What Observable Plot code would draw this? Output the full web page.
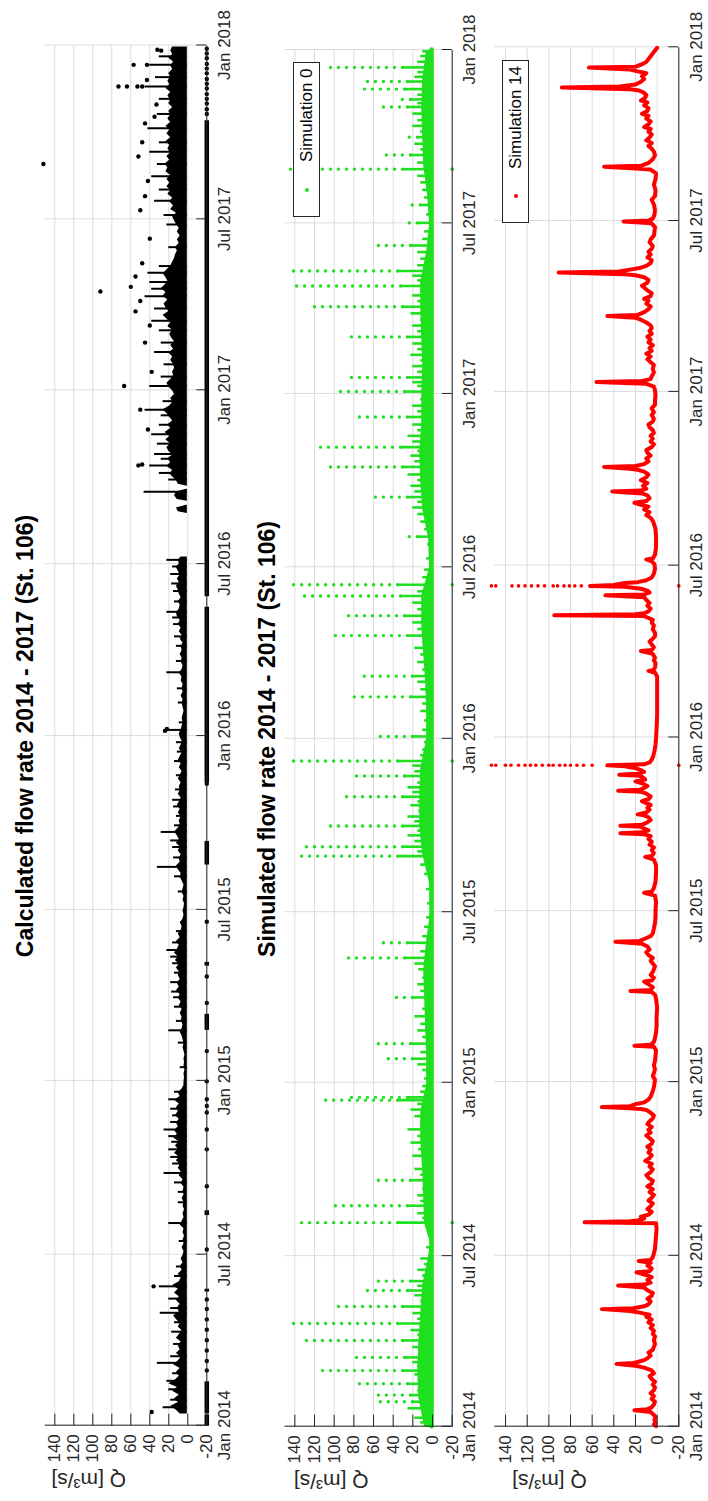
<!DOCTYPE html>
<html><head><meta charset="utf-8">
<script src="https://cdn.jsdelivr.net/npm/d3@7"></script>
<script src="https://cdn.jsdelivr.net/npm/@observablehq/plot@0.6"></script>
<style>
html,body{margin:0;padding:0;width:708px;height:1501px;overflow:hidden;background:#fff}
#fig{position:absolute;left:0;top:0;width:1501px;height:708px;transform-origin:0 0;transform:translate(0,1501px) rotate(-90deg);font-family:"Liberation Sans",Arial,sans-serif;color:#000}
#fig svg{position:absolute;left:0;top:0;background:transparent;overflow:visible}
.title{position:absolute;font-weight:bold;font-size:23px;line-height:23px;white-space:nowrap;transform:translateX(-50%);color:#000}
.legend{position:absolute;border:1px solid #262626;background:#fff;font-size:17px;box-sizing:border-box}
.legend .dot{position:absolute;width:4px;height:4px;border-radius:50%;top:50%;margin-top:-2px}
.legend .lab{position:absolute;top:50%;transform:translateY(-50%);white-space:nowrap;color:#000}
</style></head><body>
<div id="fig"></div>
<script>
// ---------- axes / text ----------
const dateTickLabels = ["2014-01-01","2014-07-01","2015-01-01","2015-07-01","2016-01-01","2016-07-01","2017-01-01","2017-07-01","2018-01-01"];
const qTicks = [-20,0,20,40,60,80,100,120,140];
const titles = ["Calculated flow rate 2014 - 2017 (St. 106)", "Simulated flow rate 2014 - 2017 (St. 106)"];
const yLabel = "Q [m³/s]";
const legendLabels = ["Simulation 0", "Simulation 14"];

// ---------- panel 1: calculated flow (black points) ----------
// dense body of points: [date, upper edge]  (lower edge ~0.5)
const calcBand = [
["2014-01-14",8],["2014-01-18",12],["2014-01-22",18],["2014-01-26",10],["2014-01-30",14],["2014-02-03",9],["2014-02-07",16],["2014-02-11",11],["2014-02-15",20],["2014-02-19",13],["2014-02-23",9],["2014-02-27",12],["2014-03-03",8],["2014-03-07",15],["2014-03-11",10],["2014-03-15",7],["2014-03-19",12],["2014-03-23",8],["2014-03-27",10],["2014-03-31",7],["2014-04-04",12],["2014-04-08",9],["2014-04-12",6],["2014-04-16",10],["2014-04-20",8],["2014-04-24",12],["2014-04-28",15],["2014-05-02",9],["2014-05-06",11],["2014-05-10",8],["2014-05-14",12],["2014-05-18",9],["2014-05-22",14],["2014-05-26",10],["2014-05-30",16],["2014-06-03",9],["2014-06-07",7],["2014-06-11",10],["2014-06-15",6],["2014-06-19",8],["2014-06-23",5],["2014-06-27",7],["2014-07-01",5],["2014-07-05",4],["2014-07-09",6],["2014-07-13",4],["2014-07-17",5],["2014-07-21",3.5],["2014-07-25",5],["2014-07-29",4],["2014-08-02",8],["2014-08-06",6],["2014-08-10",4],["2014-08-14",5],["2014-08-18",3.5],["2014-08-22",5],["2014-08-26",4],["2014-08-30",6],["2014-09-03",4],["2014-09-07",5],["2014-09-11",4],["2014-09-15",7],["2014-09-19",5],["2014-09-23",9],["2014-09-27",7],["2014-10-01",10],["2014-10-05",8],["2014-10-09",12],["2014-10-13",9],["2014-10-17",14],["2014-10-21",10],["2014-10-25",13],["2014-10-29",9],["2014-11-02",15],["2014-11-06",11],["2014-11-10",14],["2014-11-14",10],["2014-11-18",12],["2014-11-22",9],["2014-11-26",13],["2014-11-30",10],["2014-12-04",12],["2014-12-08",9],["2014-12-12",14],["2014-12-16",8],["2014-12-20",10],["2014-12-24",6],["2014-12-28",4],
["2015-01-01",4],["2015-01-05",3.5],["2015-01-09",4],["2015-01-13",3],["2015-01-17",4],["2015-01-21",3.5],["2015-01-25",4],["2015-01-29",3],["2015-02-02",4],["2015-02-06",5],["2015-02-10",4],["2015-02-14",5],["2015-02-18",6],["2015-02-22",8],["2015-02-26",6],["2015-03-02",5],["2015-03-06",7],["2015-03-10",6],["2015-03-14",8],["2015-03-18",6],["2015-03-22",9],["2015-03-26",7],["2015-03-30",10],["2015-04-03",8],["2015-04-07",12],["2015-04-11",9],["2015-04-15",11],["2015-04-19",8],["2015-04-23",10],["2015-04-27",9],["2015-05-01",12],["2015-05-05",9],["2015-05-09",13],["2015-05-13",10],["2015-05-17",14],["2015-05-21",11],["2015-05-25",9],["2015-05-29",12],["2015-06-02",8],["2015-06-06",10],["2015-06-10",7],["2015-06-14",6],["2015-06-18",8],["2015-06-22",5],["2015-06-26",4],["2015-06-30",5],["2015-07-04",4],["2015-07-08",3.5],["2015-07-12",5],["2015-07-16",4],["2015-07-20",6],["2015-07-24",5],["2015-07-28",4],["2015-08-01",6],["2015-08-05",8],["2015-08-09",7],["2015-08-13",10],["2015-08-17",12],["2015-08-21",8],["2015-08-25",9],["2015-08-29",7],["2015-09-02",10],["2015-09-06",8],["2015-09-10",12],["2015-09-14",9],["2015-09-18",11],["2015-09-22",14],["2015-09-26",10],["2015-09-30",8],["2015-10-04",9],["2015-10-08",7],["2015-10-12",10],["2015-10-16",8],["2015-10-20",11],["2015-10-24",9],["2015-10-28",7],["2015-11-01",10],["2015-11-05",8],["2015-11-09",9],["2015-11-13",7],["2015-11-17",10],["2015-11-21",8],["2015-11-25",6],["2015-11-29",9],["2015-12-03",7],["2015-12-07",10],["2015-12-11",8],["2015-12-15",6],["2015-12-19",9],["2015-12-23",7],["2015-12-27",6],["2015-12-31",8],
["2016-01-04",9],["2016-01-08",7],["2016-01-12",6],["2016-01-16",5],["2016-01-20",6],["2016-01-24",5],["2016-01-28",4],["2016-02-01",5],["2016-02-05",6],["2016-02-09",5],["2016-02-13",7],["2016-02-17",5],["2016-02-21",6],["2016-02-25",5],["2016-02-29",7],["2016-03-04",6],["2016-03-08",9],["2016-03-12",6],["2016-03-16",5],["2016-03-20",7],["2016-03-24",6],["2016-03-28",8],["2016-04-01",6],["2016-04-05",7],["2016-04-09",5],["2016-04-13",8],["2016-04-17",6],["2016-04-21",9],["2016-04-25",7],["2016-04-29",10],["2016-05-03",8],["2016-05-07",11],["2016-05-11",12],["2016-05-15",9],["2016-05-19",8],["2016-05-23",10],["2016-05-27",7],["2016-05-31",9],["2016-06-04",10],["2016-06-08",12],["2016-06-12",9],["2016-06-16",11],["2016-06-20",8],["2016-06-24",10],["2016-06-28",12],["2016-07-02",9],["2016-07-06",10],["2016-07-09",7]];
const calcBand2 = [
["2016-08-24",0.5],["2016-08-26",10],["2016-08-30",12],["2016-09-02",0.5],["2016-09-06",0.5],["2016-09-08",11],["2016-09-12",14],["2016-09-16",12],["2016-09-19",0.5],["2016-09-22",0.5],["2016-09-24",10],["2016-09-28",12],["2016-10-01",15],["2016-10-05",19],["2016-10-09",16],["2016-10-13",22],["2016-10-17",18],["2016-10-21",21],["2016-10-25",16],["2016-10-29",20],["2016-11-02",22],["2016-11-06",18],["2016-11-10",23],["2016-11-14",19],["2016-11-18",24],["2016-11-22",18],["2016-11-26",21],["2016-11-30",16],["2016-12-04",19],["2016-12-08",22],["2016-12-12",26],["2016-12-16",19],["2016-12-20",16],["2016-12-24",18],["2016-12-28",14],
["2017-01-01",16],["2017-01-05",20],["2017-01-09",22],["2017-01-13",18],["2017-01-17",15],["2017-01-21",16],["2017-01-25",14],["2017-01-29",15],["2017-02-02",18],["2017-02-06",16],["2017-02-10",20],["2017-02-14",15],["2017-02-18",18],["2017-02-22",14],["2017-02-26",17],["2017-03-02",19],["2017-03-06",16],["2017-03-10",21],["2017-03-14",18],["2017-03-18",22],["2017-03-22",26],["2017-03-26",20],["2017-03-30",23],["2017-04-03",25],["2017-04-07",21],["2017-04-11",26],["2017-04-15",23],["2017-04-19",28],["2017-04-23",24],["2017-04-27",21],["2017-05-01",23],["2017-05-05",26],["2017-05-09",22],["2017-05-13",18],["2017-05-17",16],["2017-05-21",14],["2017-05-25",13],["2017-05-29",11],["2017-06-02",13],["2017-06-06",9],["2017-06-10",11],["2017-06-14",8],["2017-06-18",11],["2017-06-22",9],["2017-06-26",12],["2017-06-30",14],["2017-07-04",16],["2017-07-08",12],["2017-07-12",18],["2017-07-16",15],["2017-07-20",19],["2017-07-24",16],["2017-07-28",21],["2017-08-01",18],["2017-08-05",22],["2017-08-09",19],["2017-08-13",22],["2017-08-17",18],["2017-08-21",23],["2017-08-25",21],["2017-08-29",24],["2017-09-02",19],["2017-09-06",22],["2017-09-10",18],["2017-09-14",21],["2017-09-18",19],["2017-09-22",23],["2017-09-26",18],["2017-09-30",22],["2017-10-04",19],["2017-10-08",23],["2017-10-12",18],["2017-10-16",21],["2017-10-20",18],["2017-10-24",20],["2017-10-28",16],["2017-11-01",20],["2017-11-05",18],["2017-11-09",21],["2017-11-13",18],["2017-11-17",23],["2017-11-21",19],["2017-11-25",21],["2017-11-29",18],["2017-12-03",20],["2017-12-07",16],["2017-12-11",18],["2017-12-15",15],["2017-12-19",20],["2017-12-23",16],["2017-12-27",18],["2017-12-31",16]];
// short bursts of points above the dense body: [date, top]
const calcHairs = [["2014-01-20",26],["2014-01-28",18],["2014-02-08",20],["2014-02-17",22],["2014-02-25",16],["2014-03-08",32],["2014-03-15",18],["2014-03-28",15],["2014-04-10",17],["2014-04-20",14],["2014-04-30",29],["2014-05-05",18],["2014-05-15",20],["2014-05-28",30],["2014-06-08",14],["2014-06-18",12],["2014-07-15",9],["2014-08-03",20],["2014-08-25",10],["2014-09-05",10],["2014-09-15",14],["2014-09-25",25],["2014-10-05",16],["2014-10-12",18],["2014-10-20",20],["2014-10-28",17],["2014-11-03",20],["2014-11-10",25],["2014-11-18",18],["2014-11-25",16],["2014-12-02",18],["2014-12-12",20],["2014-12-20",14],
["2015-01-15",8],["2015-02-10",10],["2015-02-23",20],["2015-03-05",12],["2015-03-20",14],["2015-03-30",15],["2015-04-05",17],["2015-04-15",18],["2015-04-25",14],["2015-05-05",16],["2015-05-12",18],["2015-05-19",22],["2015-05-27",16],["2015-06-08",12],["2015-07-20",10],["2015-08-05",14],["2015-08-15",32],["2015-08-25",15],["2015-09-05",16],["2015-09-12",18],["2015-09-21",28],["2015-09-28",14],["2015-10-08",12],["2015-10-18",15],["2015-10-25",16],["2015-11-05",13],["2015-11-20",12],["2015-12-05",14],["2015-12-15",11],["2015-12-25",12],
["2016-01-07",25],["2016-01-15",9],["2016-02-05",10],["2016-02-20",11],["2016-03-08",22],["2016-03-20",12],["2016-04-05",12],["2016-04-15",14],["2016-04-28",15],["2016-05-05",16],["2016-05-11",22],["2016-05-22",14],["2016-06-02",15],["2016-06-10",17],["2016-06-20",18],["2016-06-28",16],["2016-07-05",22],
["2016-09-15",46],["2016-09-28",20],["2016-10-05",30],["2016-10-13",40],["2016-10-20",28],["2016-10-25",35],["2016-11-05",32],["2016-11-15",38],["2016-11-25",30],["2016-12-05",28],["2016-12-11",45],["2016-12-20",26],["2017-01-05",40],["2017-01-15",28],["2017-01-28",25],["2017-02-10",35],["2017-02-20",28],["2017-03-05",30],["2017-03-15",38],["2017-03-28",35],["2017-04-10",45],["2017-04-18",38],["2017-04-25",40],["2017-05-05",42],["2017-05-12",30],["2017-06-01",20],["2017-06-25",22],["2017-07-05",25],["2017-07-20",35],["2017-08-01",30],["2017-08-15",38],["2017-08-28",32],["2017-09-10",40],["2017-09-20",30],["2017-10-05",42],["2017-10-20",32],["2017-11-05",30],["2017-11-18",45],["2017-11-28",34],["2017-12-11",40],["2017-12-20",30]];
// isolated points
const calcDots = [["2014-01-15",38],["2014-05-28",36],["2016-01-06",24],["2016-01-08",22],["2016-10-13",52],["2016-10-14",48],["2016-11-20",42],["2016-12-11",50],["2017-01-05",67],["2017-01-20",38],["2017-02-20",45],["2017-03-10",40],["2017-03-25",55],["2017-04-05",50],["2017-04-15",92],["2017-04-20",60],["2017-05-01",55],["2017-05-15",48],["2017-06-10",40],["2017-07-10",50],["2017-07-25",45],["2017-08-10",42],["2017-08-28",152],["2017-09-05",52],["2017-09-20",48],["2017-10-10",45],["2017-10-17",35],["2017-10-30",33],["2017-11-18",73],["2017-11-18",64],["2017-11-18",53],["2017-11-18",48],["2017-11-25",43],["2017-12-11",57],["2017-12-11",43],["2017-12-26",28],["2017-12-27",32]];
// points lying on the -20 line: continuous runs and single points
const calcLowRuns = [["2014-01-01","2014-01-13"],["2014-01-14","2014-02-17"],["2014-05-23","2014-05-26"],["2014-08-12","2014-08-17"],["2015-02-24","2015-03-13"],["2015-05-03","2015-05-07"],["2015-08-18","2015-09-12"],["2015-11-13","2016-05-17"],["2016-05-28","2017-10-14"]];
const calcLowDates = ["2014-02-28","2014-03-10","2014-03-21","2014-04-01","2014-04-12","2014-04-23","2014-05-04","2014-05-14","2014-07-06","2014-09-11","2014-10-20","2014-11-10","2014-11-28","2014-12-05","2014-12-12","2014-12-31","2015-02-01","2015-03-24","2015-04-21","2015-06-18","2015-11-11","2017-10-20","2017-10-25","2017-10-31","2017-11-05","2017-11-10","2017-11-16","2017-11-21","2017-11-26","2017-12-02","2017-12-07","2017-12-12","2017-12-18","2017-12-23","2017-12-28"];

// ---------- panel 2: simulation 0 (green points) ----------
// dense body of points near zero: [date, upper edge]
const sim0Band = [["2014-01-01",8],["2014-02-01",14],["2014-03-01",15],["2014-04-01",14],["2014-05-01",12],["2014-06-01",10],["2014-06-25",5],["2014-07-15",2],["2014-08-05",8],["2014-09-01",9],["2014-10-01",10],["2014-11-01",12],["2014-12-01",12],["2014-12-31",6],["2015-02-01",6],["2015-03-01",7],["2015-04-01",8],["2015-05-01",9],["2015-06-01",6],["2015-07-01",2],["2015-08-01",3],["2015-09-01",10],["2015-10-01",13],["2015-11-01",13],["2015-12-01",12],["2016-01-01",6],["2016-02-01",6],["2016-03-01",7],["2016-04-01",9],["2016-05-01",11],["2016-06-01",11],["2016-07-01",3],["2016-08-01",4],["2016-09-01",10],["2016-10-01",12],["2016-11-01",13],["2016-12-01",11],["2017-01-01",11],["2017-02-01",10],["2017-03-01",11],["2017-04-01",12],["2017-05-01",12],["2017-06-01",6],["2017-07-01",3],["2017-08-01",5],["2017-09-01",9],["2017-10-01",10],["2017-11-01",11],["2017-12-01",10],["2018-01-01",6]];
const sim0Base = [["2014-01-01",1],["2015-01-01",1],["2016-01-01",1],["2017-01-01",1],["2018-01-01",1]];
// flood events: [date, top of dense part, top of sparse part (null if none)]
const sim0Events = [
["2014-01-05",12,null],["2014-01-10",18,null],["2014-01-15",10,null],["2014-01-20",25,null],["2014-01-27",20,53],["2014-02-03",22,60],["2014-02-08",15,null],["2014-02-15",25,75],["2014-02-20",12,null],["2014-02-25",18,null],["2014-03-01",30,114],["2014-03-06",15,null],["2014-03-10",20,null],["2014-03-15",28,80],["2014-03-20",12,null],["2014-03-26",20,null],["2014-04-02",30,130],["2014-04-08",15,null],["2014-04-13",22,null],["2014-04-20",35,143],["2014-04-25",15,null],["2014-05-01",20,null],["2014-05-08",30,100],["2014-05-14",12,null],["2014-05-20",18,null],["2014-05-25",25,70],["2014-05-30",15,null],["2014-06-04",22,60],["2014-06-10",10,null],["2014-06-16",15,null],["2014-06-22",8,null],["2014-06-28",12,null],["2014-07-10",6,null],["2014-07-25",5,null],
["2014-08-05",35,134],["2014-08-10",10,null],["2014-08-15",15,null],["2014-08-23",25,100],["2014-08-28",12,null],["2014-09-03",15,null],["2014-09-10",10,null],["2014-09-19",22,60],["2014-09-25",12,null],["2014-10-01",18,null],["2014-10-08",10,null],["2014-10-15",20,null],["2014-10-22",14,null],["2014-10-29",22,null],["2014-11-05",15,null],["2014-11-12",25,null],["2014-11-19",12,null],["2014-11-26",18,null],["2014-12-03",22,null],["2014-12-09",15,null],["2014-12-13",35,115],["2014-12-16",25,90],["2014-12-22",12,null],["2014-12-28",10,null],
["2015-01-05",8,null],["2015-01-14",10,null],["2015-01-20",15,null],["2015-01-26",20,50],["2015-02-02",12,null],["2015-02-11",22,60],["2015-02-18",10,null],["2015-02-25",15,null],["2015-03-04",12,null],["2015-03-12",18,null],["2015-03-20",10,null],["2015-04-01",20,40],["2015-04-08",12,null],["2015-04-15",15,null],["2015-04-22",10,null],["2015-05-01",14,null],["2015-05-07",18,null],["2015-05-13",28,90],["2015-05-20",12,null],["2015-05-29",25,50],["2015-06-05",10,null],["2015-06-15",8,null],["2015-06-25",6,null],["2015-07-10",5,null],["2015-07-25",6,null],["2015-08-10",8,null],["2015-08-20",12,null],["2015-08-29",35,135],["2015-09-03",15,null],["2015-09-08",30,130],["2015-09-14",18,null],["2015-09-20",25,null],["2015-09-25",15,null],["2015-09-30",30,110],["2015-10-05",18,null],["2015-10-10",25,null],["2015-10-16",14,null],["2015-10-22",22,null],["2015-10-26",15,null],["2015-10-31",30,95],["2015-11-05",20,null],["2015-11-10",25,null],["2015-11-15",15,null],["2015-11-22",28,80],["2015-11-27",18,null],["2015-12-03",20,null],["2015-12-08",35,148],["2015-12-14",12,null],["2015-12-20",10,null],["2015-12-28",8,null],
["2016-01-03",20,60],["2016-01-10",10,null],["2016-01-20",8,null],["2016-01-30",12,null],["2016-02-07",10,null],["2016-02-14",22,80],["2016-02-22",12,null],["2016-03-01",15,null],["2016-03-07",20,70],["2016-03-14",10,null],["2016-03-22",15,null],["2016-03-30",12,null],["2016-04-06",18,null],["2016-04-12",10,null],["2016-04-19",25,100],["2016-04-26",15,null],["2016-05-03",20,null],["2016-05-10",28,90],["2016-05-17",15,null],["2016-05-24",20,null],["2016-05-31",32,135],["2016-06-05",15,null],["2016-06-12",35,148],["2016-06-20",10,null],["2016-06-28",8,null],["2016-07-10",6,null],["2016-07-25",5,null],["2016-08-02",15,30],["2016-08-10",8,null],["2016-08-18",12,null],["2016-08-26",15,null],["2016-09-02",20,null],["2016-09-08",15,null],["2016-09-13",25,60],["2016-09-19",18,null],["2016-09-25",22,null],["2016-10-01",15,null],["2016-10-07",25,null],["2016-10-15",30,110],["2016-10-21",18,null],["2016-10-27",22,null],["2016-11-01",15,null],["2016-11-05",32,120],["2016-11-11",20,null],["2016-11-17",25,null],["2016-11-23",15,null],["2016-11-29",20,null],["2016-12-07",25,80],["2016-12-13",15,null],["2016-12-19",20,null],["2016-12-26",12,null],
["2017-01-03",28,95],["2017-01-09",15,null],["2017-01-13",20,null],["2017-01-18",25,85],["2017-01-24",15,null],["2017-01-30",20,null],["2017-02-05",12,null],["2017-02-11",22,null],["2017-02-17",15,null],["2017-02-23",20,null],["2017-03-02",25,90],["2017-03-08",15,null],["2017-03-14",20,null],["2017-03-20",12,null],["2017-03-27",22,null],["2017-04-03",30,120],["2017-04-09",15,null],["2017-04-15",20,null],["2017-04-20",12,null],["2017-04-25",32,140],["2017-05-01",15,null],["2017-05-06",20,null],["2017-05-11",35,148],["2017-05-17",15,null],["2017-05-24",12,null],["2017-05-31",15,null],["2017-06-07",22,60],["2017-06-14",10,null],["2017-06-22",8,null],["2017-07-01",15,30],["2017-07-10",6,null],["2017-07-20",12,27],["2017-07-28",8,null],["2017-08-05",10,null],["2017-08-13",12,null],["2017-08-20",15,null],["2017-08-27",30,151],["2017-09-03",15,null],["2017-09-11",22,50],["2017-09-17",12,null],["2017-09-23",18,null],["2017-09-30",15,29],["2017-10-06",12,null],["2017-10-12",20,null],["2017-10-18",15,null],["2017-10-25",20,null],["2017-11-01",25,51],["2017-11-05",15,null],["2017-11-09",22,32],["2017-11-14",15,null],["2017-11-20",28,76],["2017-11-28",25,72],["2017-12-03",18,null],["2017-12-08",15,null],["2017-12-13",30,104],["2017-12-19",15,null],["2017-12-25",12,null],["2017-12-30",10,null]];
const sim0LowDates = ["2014-08-05","2015-12-08","2016-06-12","2017-08-27"];

// ---------- panel 3: simulation 14 (red) ----------
const sim14 = [
["2014-01-01",1],["2014-01-03",3],["2014-01-05",1.5],["2014-01-08",2.5],["2014-01-11",1.5],["2014-01-14",4],["2014-01-16",6],["2014-01-18",21],["2014-01-19",9],["2014-01-21",5],["2014-01-24",3],["2014-01-27",2],["2014-01-30",5],["2014-02-02",3],["2014-02-05",6],["2014-02-08",3],["2014-02-11",2],["2014-02-14",4],["2014-02-17",2],["2014-02-20",5],["2014-02-23",7],["2014-02-26",3],["2014-03-01",5],["2014-03-04",12],["2014-03-06",20],["2014-03-07",30],["2014-03-08",37.5],["2014-03-09",22],["2014-03-10",18],["2014-03-12",12],["2014-03-14",9],["2014-03-17",6],["2014-03-20",8],["2014-03-23",4],["2014-03-26",3],["2014-03-29",2],["2014-04-02",3],["2014-04-06",2],["2014-04-09",4],["2014-04-12",3],["2014-04-15",6],["2014-04-18",4],["2014-04-21",8],["2014-04-24",5],["2014-04-27",10],["2014-04-29",7],["2014-05-01",15],["2014-05-03",25],["2014-05-05",51],["2014-05-06",22],["2014-05-08",12],["2014-05-10",8],["2014-05-13",6],["2014-05-16",9],["2014-05-19",5],["2014-05-22",4],["2014-05-25",9],["2014-05-28",12],["2014-05-30",36],["2014-05-31",12],["2014-06-02",6],["2014-06-05",9],["2014-06-08",5],["2014-06-10",10],["2014-06-13",19],["2014-06-14",7],["2014-06-17",5],["2014-06-20",9],["2014-06-23",6],["2014-06-25",17],["2014-06-26",6],["2014-06-29",4],["2014-07-03",3],["2014-07-08",2],["2014-07-15",1.5],["2014-07-22",1],["2014-07-29",0.5],["2014-08-04",1],["2014-08-05",67],["2014-08-06",25],["2014-08-07",18],["2014-08-09",12],["2014-08-11",15],["2014-08-13",8],["2014-08-16",5],["2014-08-19",9],["2014-08-22",6],["2014-08-25",4],["2014-08-28",8],["2014-08-31",5],["2014-09-03",3],["2014-09-06",7],["2014-09-09",4],["2014-09-12",9],["2014-09-15",5],["2014-09-18",4],["2014-09-21",8],["2014-09-24",10],["2014-09-27",6],["2014-09-30",4],["2014-10-03",7],["2014-10-06",5],["2014-10-09",11],["2014-10-12",7],["2014-10-15",5],["2014-10-18",8],["2014-10-21",6],["2014-10-24",9],["2014-10-27",5],["2014-10-30",4],["2014-11-02",7],["2014-11-05",10],["2014-11-08",6],["2014-11-11",8],["2014-11-14",5],["2014-11-17",9],["2014-11-20",7],["2014-11-23",4],["2014-11-26",3],["2014-11-29",6],["2014-12-02",10],["2014-12-03",15],["2014-12-04",30],["2014-12-05",51],["2014-12-06",25],["2014-12-08",20],["2014-12-10",12],["2014-12-13",8],["2014-12-16",6],["2014-12-19",5],["2014-12-22",4],["2014-12-26",3],["2014-12-30",2.5],
["2015-01-03",2],["2015-01-07",4],["2015-01-10",3],["2015-01-14",2],["2015-01-18",3],["2015-01-23",2],["2015-01-28",1.5],["2015-02-03",1],["2015-02-07",3],["2015-02-08",21],["2015-02-09",6],["2015-02-12",3],["2015-02-16",2],["2015-02-22",1],["2015-03-01",0.5],["2015-03-10",0.5],["2015-03-20",0],["2015-03-30",1],["2015-04-03",2],["2015-04-06",5],["2015-04-07",24.6],["2015-04-08",6],["2015-04-11",4],["2015-04-14",8],["2015-04-17",12],["2015-04-18",5],["2015-04-21",3],["2015-04-24",6],["2015-04-27",4],["2015-04-30",3],["2015-05-03",2],["2015-05-06",4],["2015-05-09",6],["2015-05-12",4],["2015-05-15",8],["2015-05-18",10],["2015-05-21",7],["2015-05-24",9],["2015-05-27",14],["2015-05-29",38.5],["2015-05-30",16],["2015-06-01",12],["2015-06-04",6],["2015-06-07",4],["2015-06-12",3],["2015-06-18",2],["2015-06-25",1.5],["2015-07-02",1.5],["2015-07-10",1],["2015-07-17",2],["2015-07-20",12],["2015-07-21",5],["2015-07-25",3],["2015-08-01",1.5],["2015-08-10",1],["2015-08-18",1],["2015-08-24",3],["2015-08-27",11],["2015-08-28",5],["2015-08-31",3],["2015-09-03",5],["2015-09-06",3],["2015-09-09",7],["2015-09-12",5],["2015-09-15",8],["2015-09-18",6],["2015-09-20",12],["2015-09-21",34],["2015-09-22",14],["2015-09-24",8],["2015-09-26",12],["2015-09-28",15],["2015-09-29",34],["2015-09-30",14],["2015-10-02",10],["2015-10-05",6],["2015-10-08",8],["2015-10-10",12],["2015-10-11",18],["2015-10-13",10],["2015-10-16",7],["2015-10-18",9],["2015-10-21",6],["2015-10-23",10],["2015-10-25",14],["2015-10-27",8],["2015-10-30",6],["2015-11-02",10],["2015-11-04",15],["2015-11-05",36],["2015-11-06",16],["2015-11-08",12],["2015-11-10",9],["2015-11-13",14],["2015-11-15",20],["2015-11-17",11],["2015-11-19",13],["2015-11-21",16],["2015-11-22",35],["2015-11-23",18],["2015-11-25",12],["2015-11-27",15],["2015-11-29",20],["2015-11-30",25],["2015-12-01",30],["2015-12-02",46],["2015-12-03",12],["2015-12-05",7],["2015-12-08",5],["2015-12-12",3.5],["2015-12-17",2.5],["2015-12-24",1.5],["2015-12-31",1],
["2016-01-10",0.5],["2016-01-25",0],["2016-02-10",0],["2016-02-25",0],["2016-03-05",0],["2016-03-09",2],["2016-03-11",8],["2016-03-12",3],["2016-03-15",2],["2016-03-19",1.5],["2016-03-22",3],["2016-03-25",2],["2016-03-29",4],["2016-04-01",15],["2016-04-02",5],["2016-04-05",3],["2016-04-08",5],["2016-04-11",7],["2016-04-14",4],["2016-04-17",2],["2016-04-20",2],["2016-04-24",4],["2016-04-28",3],["2016-05-01",5],["2016-05-04",4],["2016-05-06",8],["2016-05-08",12],["2016-05-09",95],["2016-05-10",20],["2016-05-11",12],["2016-05-13",8],["2016-05-16",6],["2016-05-19",9],["2016-05-22",7],["2016-05-25",10],["2016-05-28",12],["2016-05-30",47.7],["2016-05-31",12],["2016-06-02",7],["2016-06-04",9],["2016-06-06",15],["2016-06-08",30],["2016-06-09",62],["2016-06-10",40],["2016-06-12",30],["2016-06-13",18],["2016-06-15",10],["2016-06-18",5],["2016-06-22",3],["2016-06-27",2],["2016-07-02",2.5],["2016-07-05",5],["2016-07-07",10],["2016-07-08",4],["2016-07-12",2],["2016-07-20",1],["2016-07-30",1],["2016-08-08",1.5],["2016-08-14",3],["2016-08-17",4],["2016-08-20",6],["2016-08-23",10],["2016-08-26",7],["2016-08-29",12],["2016-09-01",8],["2016-09-03",15],["2016-09-05",21],["2016-09-07",10],["2016-09-10",7],["2016-09-13",9],["2016-09-15",14],["2016-09-17",41.5],["2016-09-18",15],["2016-09-20",10],["2016-09-23",13],["2016-09-26",9],["2016-09-29",15],["2016-10-02",10],["2016-10-05",8],["2016-10-08",12],["2016-10-10",18],["2016-10-11",25],["2016-10-13",49],["2016-10-14",20],["2016-10-16",12],["2016-10-19",8],["2016-10-22",10],["2016-10-25",6],["2016-10-28",9],["2016-10-31",10],["2016-11-03",5],["2016-11-06",3],["2016-11-09",6],["2016-11-12",4],["2016-11-15",6],["2016-11-18",3],["2016-11-21",4],["2016-11-24",7],["2016-11-27",8],["2016-11-30",4],["2016-12-03",3],["2016-12-07",5],["2016-12-10",3],["2016-12-14",5],["2016-12-18",2],["2016-12-23",2],["2016-12-28",1.5],
["2017-01-02",2],["2017-01-06",3],["2017-01-09",10],["2017-01-11",56],["2017-01-12",14],["2017-01-14",6],["2017-01-17",5],["2017-01-21",3],["2017-01-25",4],["2017-01-29",3],["2017-02-01",6],["2017-02-04",9],["2017-02-07",6],["2017-02-10",10],["2017-02-13",5],["2017-02-16",7],["2017-02-19",4],["2017-02-22",8],["2017-02-25",6],["2017-02-28",9],["2017-03-03",5],["2017-03-06",7],["2017-03-09",5],["2017-03-12",6],["2017-03-15",10],["2017-03-18",15],["2017-03-20",20],["2017-03-22",46],["2017-03-23",18],["2017-03-26",12],["2017-03-29",8],["2017-04-01",6],["2017-04-04",10],["2017-04-07",8],["2017-04-09",12],["2017-04-12",6],["2017-04-15",5],["2017-04-18",9],["2017-04-21",12],["2017-04-23",14],["2017-04-26",9],["2017-04-29",8],["2017-05-02",12],["2017-05-04",20],["2017-05-05",30],["2017-05-07",91],["2017-05-08",35],["2017-05-10",25],["2017-05-12",15],["2017-05-14",10],["2017-05-17",6],["2017-05-20",5],["2017-05-23",9],["2017-05-26",6],["2017-05-29",8],["2017-06-01",5],["2017-06-04",4],["2017-06-08",7],["2017-06-11",6],["2017-06-15",3],["2017-06-19",2.5],["2017-06-24",2],["2017-06-28",5],["2017-06-30",31],["2017-07-01",8],["2017-07-03",4],["2017-07-07",2.5],["2017-07-12",2],["2017-07-18",3],["2017-07-23",5],["2017-07-27",2],["2017-08-02",1.5],["2017-08-08",3],["2017-08-14",1.5],["2017-08-20",1],["2017-08-24",6],["2017-08-25",20],["2017-08-27",49],["2017-08-28",15],["2017-08-31",8],["2017-09-04",4],["2017-09-08",2],["2017-09-12",3],["2017-09-15",5],["2017-09-18",8],["2017-09-21",5],["2017-09-24",10],["2017-09-27",7],["2017-09-30",5],["2017-10-03",8],["2017-10-06",6],["2017-10-08",12],["2017-10-11",8],["2017-10-14",6],["2017-10-17",10],["2017-10-20",8],["2017-10-22",14],["2017-10-25",9],["2017-10-28",8],["2017-10-31",12],["2017-11-03",9],["2017-11-05",15],["2017-11-08",11],["2017-11-11",10],["2017-11-14",13],["2017-11-16",18],["2017-11-17",25],["2017-11-19",88],["2017-11-20",35],["2017-11-22",20],["2017-11-25",15],["2017-11-28",12],["2017-12-01",14],["2017-12-04",10],["2017-12-06",18],["2017-12-08",25],["2017-12-10",63],["2017-12-11",20],["2017-12-13",15],["2017-12-16",10],["2017-12-19",8],["2017-12-22",6],["2017-12-25",4],["2017-12-28",2],["2017-12-31",0]];
// sparse points of the two largest floods (some beyond the axis limits)
const sim14Sparse = [["2015-12-02",153],["2015-12-02",149],["2015-12-02",140],["2015-12-02",135],["2015-12-02",128],["2015-12-02",122],["2015-12-02",117],["2015-12-02",112],["2015-12-02",106],["2015-12-02",100],["2015-12-02",96],["2015-12-02",90],["2015-12-02",85],["2015-12-02",80],["2015-12-02",74],["2015-12-02",68],["2015-12-02",60],["2015-12-02",-20],["2016-06-09",153],["2016-06-09",149],["2016-06-09",134],["2016-06-09",128],["2016-06-09",122],["2016-06-09",116],["2016-06-09",110],["2016-06-09",104],["2016-06-09",96],["2016-06-09",92],["2016-06-09",86],["2016-06-09",81],["2016-06-09",76],["2016-06-09",70],["2016-06-09",-20]];

// ---------- build ----------
const parse = s => new Date(s);
const dateTicks = dateTickLabels.map(parse);
const pairs = arr => arr.map(([d, v]) => ({date: parse(d), value: v}));
const FONT = "Liberation Sans, Arial, Helvetica, sans-serif";
const AX = "#262626", GRID = "#dcdcdc";

function panel(box, dataMarks) {
  const pw = box.x1 - box.x0, ph = box.y1 - box.y0;
  return Plot.plot({
    width: 1501, height: 708,
    marginLeft: box.x0, marginRight: 1501 - box.x1, marginTop: box.y0, marginBottom: 708 - box.y1,
    style: {fontFamily: FONT, fontSize: "17px", color: AX, background: "transparent", overflow: "visible"},
    x: {type: "utc", domain: [dateTicks[0], dateTicks[dateTicks.length - 1]]},
    y: {domain: [-20, 150]},
    marks: [
      Plot.ruleX(dateTicks, {stroke: GRID, strokeWidth: 1}),
      Plot.ruleY(qTicks, {stroke: GRID, strokeWidth: 1}),
      ...dataMarks,
      Plot.ruleX(dateTicks, {stroke: AX, insetTop: ph - 10}),
      Plot.ruleY(qTicks, {stroke: AX, insetRight: pw - 12}),
      Plot.ruleY([-20], {stroke: AX}),
      Plot.ruleX([dateTicks[0]], {stroke: AX}),
      Plot.axisX({ticks: dateTicks, tickFormat: d3.utcFormat("%b %Y"), tickSize: 0, tickPadding: 11, label: null, fontSize: 17, fill: AX}),
      Plot.axisY({ticks: qTicks, tickFormat: d => `${d}`, tickSize: 0, tickPadding: 9, label: null, fontSize: 17, fill: AX}),
      Plot.text([yLabel], {frameAnchor: "left", rotate: -90, dx: -55, fontSize: 21, fill: AX})
    ]
  });
}

const fig = document.getElementById("fig");

// panel 1
const K = "#000";
const runs = calcLowRuns.map(([a, b]) => ({a: parse(a), b: parse(b)}));
fig.appendChild(panel({x0: 75.3, x1: 1455.5, y0: 44.8, y1: 206.3}, [
  Plot.areaY(pairs(calcBand), {x: "date", y1: 0.5, y2: "value", fill: K}),
  Plot.areaY(pairs(calcBand2), {x: "date", y1: 0.5, y2: "value", fill: K}),
  Plot.ruleX(pairs(calcHairs), {x: "date", y1: 0.5, y2: "value", stroke: K, strokeWidth: 2}),
  Plot.dot(pairs(calcDots), {x: "date", y: "value", r: 2.2, fill: K}),
  Plot.ruleY(runs, {y: -20, x1: "a", x2: "b", stroke: K, strokeWidth: 4.5}),
  Plot.dot(calcLowDates.map(d => ({date: parse(d)})), {x: "date", y: -20, r: 2.2, fill: K})
]));

// panel 2
const G = "#1fe01f";
const events = sim0Events.map(([d, dense, sparse]) => ({date: parse(d), dense, sparse}));
fig.appendChild(panel({x0: 74.3, x1: 1451, y0: 284.5, y1: 451.7}, [
  Plot.areaY(pairs(sim0Band), {x: "date", y1: 0, y2: "value", fill: G}),
  Plot.ruleX(events, {x: "date", y1: 0, y2: "dense", stroke: G, strokeWidth: 2.6}),
  Plot.ruleX(events.filter(e => e.sparse != null), {x: "date", y1: "dense", y2: "sparse", stroke: G, strokeWidth: 3.4, strokeLinecap: "round", strokeDasharray: "0,8"}),
  Plot.line(pairs(sim0Base), {x: "date", y: "value", stroke: G, strokeWidth: 4.5}),
  Plot.dot(sim0LowDates.map(d => ({date: parse(d)})), {x: "date", y: -20, r: 1.8, fill: G})
]));

// panel 3
const R = "#ff0000";
fig.appendChild(panel({x0: 74.3, x1: 1453.7, y0: 494.2, y1: 678.3}, [
  Plot.line(pairs(sim14), {x: "date", y: "value", stroke: R, strokeWidth: 4, strokeLinejoin: "round"}),
  Plot.dot(pairs(sim14Sparse), {x: "date", y: "value", r: 1.8, fill: R})
]));

// titles
const t1 = document.createElement("div"); t1.className = "title"; t1.textContent = titles[0];
t1.style.left = "765px"; t1.style.top = "14px"; fig.appendChild(t1);
const t2 = document.createElement("div"); t2.className = "title"; t2.textContent = titles[1];
t2.style.left = "762px"; t2.style.top = "256px"; fig.appendChild(t2);

// legends
function legend(left, top, w, h, color, label, dotX, textX) {
  const d = document.createElement("div"); d.className = "legend";
  d.style.left = left + "px"; d.style.top = top + "px"; d.style.width = w + "px"; d.style.height = h + "px";
  const dot = document.createElement("div"); dot.className = "dot"; dot.style.left = (dotX - 2) + "px"; dot.style.background = color;
  const lab = document.createElement("div"); lab.className = "lab"; lab.style.left = textX + "px"; lab.textContent = label;
  d.appendChild(dot); d.appendChild(lab); fig.appendChild(d);
}
legend(1284, 293, 155, 27, G, legendLabels[0], 26, 54);
legend(1278, 502, 163, 27, R, legendLabels[1], 26, 53);
</script>
</body></html>
